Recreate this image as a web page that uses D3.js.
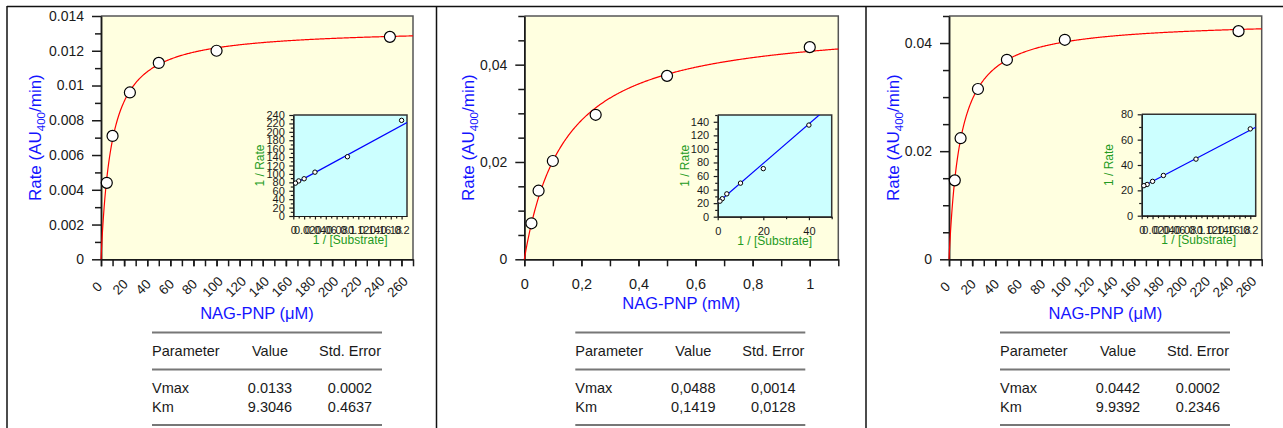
<!DOCTYPE html>
<html>
<head>
<meta charset="utf-8">
<script src="https://cdn.jsdelivr.net/npm/d3@7"></script>
<style>
  html, body { margin: 0; padding: 0; background: #ffffff; }
  svg { display: block; }
</style>
</head>
<body>
<svg id="chart" width="1283" height="428"></svg>
<script>
// ---- Data -------------------------------------------------------------
// Panel A: NAG-PNP in µM
const substrateA = [5, 10, 25, 50, 100, 250];
const rateA = [0.0044, 0.0071, 0.0096, 0.0113, 0.0120, 0.0128];
// Panel B: NAG-PNP in mM
const substrateB = [0.025, 0.05, 0.1, 0.25, 0.5, 1];
const rateB = [0.0074, 0.0141, 0.0202, 0.0297, 0.0377, 0.0436];
// Panel C: NAG-PNP in µM
const substrateC = [5, 10, 25, 50, 100, 250];
const rateC = [0.0146, 0.0224, 0.0315, 0.0369, 0.0406, 0.0422];

// Michaelis-Menten fit results: [Vmax, Km] and their standard errors
const paramNames = ["Vmax", "Km"];
const fitA = [0.0133, 9.3046];
const errA = [0.0002, 0.4637];
const fitB = [0.0488, 0.1419];
const errB = [0.0014, 0.0128];
const fitC = [0.0442, 9.9392];
const errC = [0.0002, 0.2346];

// Tick values
const xTicksMicro = [0, 20, 40, 60, 80, 100, 120, 140, 160, 180, 200, 220, 240, 260];
const xMinorMicro = [0, 10, 20, 30, 40, 50, 60, 70, 80, 90, 100, 110, 120, 130, 140, 150, 160, 170, 180, 190, 200, 210, 220, 230, 240, 250, 260, 270];
const xTicksMilli = [0, 0.2, 0.4, 0.6, 0.8, 1];
const xMinorMilli = [0, 0.1, 0.2, 0.3, 0.4, 0.5, 0.6, 0.7, 0.8, 0.9, 1, 1.1];
const yTicksA = [0, 0.002, 0.004, 0.006, 0.008, 0.01, 0.012, 0.014];
const yMinorA = [0.001, 0.003, 0.005, 0.007, 0.009, 0.011, 0.013];
const yTicksB = [0, 0.02, 0.04];
const yMinorB = [0.005, 0.01, 0.015, 0.025, 0.03, 0.035, 0.045, 0.05];
const yTicksC = [0, 0.02, 0.04];
const yMinorC = [0.005, 0.01, 0.015, 0.025, 0.03, 0.035, 0.045];

// Double-reciprocal inset ticks
const invSTicksMicro = [0, 0.02, 0.04, 0.06, 0.08, 0.1, 0.12, 0.14, 0.16, 0.18, 0.2];
const invSMinorMicro = [0.01, 0.03, 0.05, 0.07, 0.09, 0.11, 0.13, 0.15, 0.17, 0.19];
const invSTicksMilli = [0, 20, 40];
const invSMinorMilli = [10, 30, 50];
const invVTicksA = [0, 20, 40, 60, 80, 100, 120, 140, 160, 180, 200, 220, 240];
const invVMinorA = [10, 30, 50, 70, 90, 110, 130, 150, 170, 190, 210, 230];
const invVTicksB = [0, 20, 40, 60, 80, 100, 120, 140];
const invVMinorB = [10, 30, 50, 70, 90, 110, 130, 150];
const invVTicksC = [0, 20, 40, 60, 80];
const invVMinorC = [10, 30, 50, 70];

// ---- Styling ----------------------------------------------------------
const FONT = "'Liberation Sans', Arial, Helvetica, sans-serif";
const INK = "#1a1a1a";
const TITLE_BLUE = "#1414ff";
const INSET_GREEN = "#229a22";
const PLOT_BG = "#ffffe0";
const INSET_BG = "#ccffff";

const fmtDot = d3.format("~g");
const commaLocale = d3.formatLocale({ decimal: ",", thousands: ".", grouping: [3], currency: ["", ""] });
const fmtComma = commaLocale.format("~g");
const fmtDot4 = d3.format(".4f");
const fmtComma4 = commaLocale.format(".4f");

const svg = d3.select("#chart");

// Page frame: top rule and panel separators
const frame = svg.append("g").attr("stroke", "#111").attr("stroke-width", 1.5).attr("fill", "none");
frame.append("line").attr("x1", 7).attr("x2", 1283).attr("y1", 6.5).attr("y2", 6.5);
[7, 436.5, 866].forEach(xv => {
  frame.append("line").attr("x1", xv).attr("x2", xv).attr("y1", 6).attr("y2", 428);
});

function styleAxis(sel, width) {
  sel.selectAll("path.domain").attr("stroke", INK).attr("stroke-width", width);
  sel.selectAll(".tick line").attr("stroke", INK).attr("stroke-width", width);
  sel.attr("font-family", FONT);
}

function drawPanel(cfg) {
  const g = svg.append("g");
  const L = cfg.box[0], R = cfg.box[1], T = cfg.box[2], B = cfg.box[3];
  const x = d3.scaleLinear().domain(cfg.xDomain).range([L, R]);
  const y = d3.scaleLinear().domain(cfg.yDomain).range([B, T]);

  g.append("rect").attr("x", L).attr("y", T).attr("width", R - L).attr("height", B - T).attr("fill", PLOT_BG);
  g.append("path").attr("d", `M${L},${T}H${R}V${B}`).attr("fill", "none").attr("stroke", "#555").attr("stroke-width", 1.5);

  // y axis: minor then labelled ticks
  g.append("g").attr("transform", `translate(${L},0)`)
    .call(d3.axisLeft(y).tickValues(cfg.yMinor).tickSize(6).tickSizeOuter(0).tickFormat(""))
    .call(s => styleAxis(s, 1.5));
  g.append("g").attr("transform", `translate(${L},0)`)
    .call(d3.axisLeft(y).tickValues(cfg.yTicks).tickSize(9).tickSizeOuter(0).tickPadding(8).tickFormat(cfg.fmt))
    .call(s => styleAxis(s, 1.5))
    .call(s => s.selectAll("text").attr("font-size", 14).attr("fill", INK));

  // x axis: minor then labelled ticks
  g.append("g").attr("transform", `translate(0,${B})`)
    .call(d3.axisBottom(x).tickValues(cfg.xMinor).tickSize(7).tickSizeOuter(0).tickFormat(""))
    .call(s => styleAxis(s, 1.5));
  const xa = g.append("g").attr("transform", `translate(0,${B})`)
    .call(d3.axisBottom(x).tickValues(cfg.xTicks).tickSize(7).tickSizeOuter(0).tickPadding(12).tickFormat(cfg.fmt))
    .call(s => styleAxis(s, 1.5));
  if (cfg.rotateX) {
    xa.selectAll("text")
      .attr("font-size", 13.5).attr("fill", INK)
      .attr("x", 0).attr("y", 0).attr("dy", "0.35em")
      .attr("text-anchor", "middle")
      .attr("transform", "translate(-4.5,27.5) rotate(-45)");
  } else {
    xa.selectAll("text").attr("font-size", 14.5).attr("fill", INK);
  }

  // Michaelis-Menten curve from the fitted parameters
  const vmax = cfg.fit[0], km = cfg.fit[1];
  const xs = d3.range(0, 401).map(i => cfg.xDomain[1] * i / 400);
  const line = d3.line().x(s => x(s)).y(s => y(vmax * s / (km + s)));
  g.append("path").datum(xs).attr("d", line)
    .attr("fill", "none").attr("stroke", "#ff0000").attr("stroke-width", 1.2);

  // measured rates
  g.append("g").selectAll("circle")
    .data(cfg.conc.map((c, i) => [c, cfg.rate[i]]))
    .join("circle")
    .attr("cx", d => x(d[0])).attr("cy", d => y(d[1])).attr("r", 5.5)
    .attr("fill", "#ffffff").attr("stroke", "#000").attr("stroke-width", 1.2);

  // axis titles
  const yt = g.append("text")
    .attr("transform", `translate(${L + cfg.yTitleOffset},${(T + B) / 2}) rotate(-90)`)
    .attr("text-anchor", "middle").attr("font-family", FONT).attr("font-size", 17).attr("fill", TITLE_BLUE);
  yt.append("tspan").text("Rate (AU");
  yt.append("tspan").attr("font-size", 11.5).attr("dy", 4).text("400");
  yt.append("tspan").attr("dy", -4).text("/min)");

  g.append("text")
    .attr("x", (L + R) / 2).attr("y", cfg.xTitleY)
    .attr("text-anchor", "middle").attr("font-family", FONT).attr("font-size", 16.5).attr("fill", TITLE_BLUE)
    .text(cfg.xTitle);

  drawInset(g, cfg);
  drawTable(g, cfg);
}

function drawInset(g, cfg) {
  const ins = cfg.inset;
  const L = ins.box[0], R = ins.box[1], T = ins.box[2], B = ins.box[3];
  const x = d3.scaleLinear().domain(ins.xDomain).range([L, R]);
  const y = d3.scaleLinear().domain(ins.yDomain).range([B, T]);
  const clipId = "clip-" + cfg.id;

  g.append("clipPath").attr("id", clipId)
    .append("rect").attr("x", L).attr("y", T).attr("width", R - L).attr("height", B - T);
  g.append("rect").attr("x", L).attr("y", T).attr("width", R - L).attr("height", B - T).attr("fill", INSET_BG);
  g.append("path").attr("d", `M${L},${T}H${R}V${B}`).attr("fill", "none").attr("stroke", "#333").attr("stroke-width", 1.5);

  g.append("g").attr("transform", `translate(${L},0)`)
    .call(d3.axisLeft(y).tickValues(ins.yMinor).tickSize(2.5).tickSizeOuter(0).tickFormat(""))
    .call(s => styleAxis(s, 1.2));
  g.append("g").attr("transform", `translate(${L},0)`)
    .call(d3.axisLeft(y).tickValues(ins.yTicks).tickSize(4).tickSizeOuter(0).tickPadding(4.5).tickFormat(fmtDot))
    .call(s => styleAxis(s, 1.2))
    .call(s => s.selectAll("text").attr("font-size", 11).attr("fill", INK));

  g.append("g").attr("transform", `translate(0,${B})`)
    .call(d3.axisBottom(x).tickValues(ins.xMinor).tickSize(2.5).tickSizeOuter(0).tickFormat(""))
    .call(s => styleAxis(s, 1.2));
  g.append("g").attr("transform", `translate(0,${B})`)
    .call(d3.axisBottom(x).tickValues(ins.xTicks).tickSize(3.5).tickSizeOuter(0).tickPadding(7).tickFormat(fmtDot))
    .call(s => styleAxis(s, 1.2))
    .call(s => s.selectAll("text").attr("font-size", 11).attr("fill", INK));

  // Lineweaver-Burk line: 1/v = 1/Vmax + (Km/Vmax)(1/S)
  const vmax = cfg.fit[0], km = cfg.fit[1];
  const lb = s => 1 / vmax + (km / vmax) * s;
  g.append("line")
    .attr("clip-path", `url(#${clipId})`)
    .attr("x1", x(ins.xDomain[0])).attr("y1", y(lb(ins.xDomain[0])))
    .attr("x2", x(ins.xDomain[1])).attr("y2", y(lb(ins.xDomain[1])))
    .attr("stroke", "#0000ff").attr("stroke-width", 1.2);

  g.append("g").selectAll("circle")
    .data(cfg.conc.map((c, i) => [1 / c, 1 / cfg.rate[i]]))
    .join("circle")
    .attr("cx", d => x(d[0])).attr("cy", d => y(d[1])).attr("r", 2.2)
    .attr("fill", "#ffffff").attr("stroke", "#000").attr("stroke-width", 1);

  g.append("text")
    .attr("transform", `translate(${L - 29},${(T + B) / 2}) rotate(-90)`)
    .attr("text-anchor", "middle").attr("font-family", FONT).attr("font-size", 12).attr("fill", INSET_GREEN)
    .text("1 / Rate");
  g.append("text")
    .attr("x", (L + R) / 2).attr("y", B + 28)
    .attr("text-anchor", "middle").attr("font-family", FONT).attr("font-size", 12).attr("fill", INSET_GREEN)
    .text("1 / [Substrate]");
}

function drawTable(g, cfg) {
  const left = cfg.box[0] + 51;
  const width = 230;
  const colValue = left + 118;
  const colErr = left + 198;
  const rules = [332.5, 369.5, 425];
  const t = g.append("g").attr("font-family", FONT).attr("font-size", 14.5).attr("fill", INK);
  rules.forEach(ry => {
    g.append("line").attr("x1", left).attr("x2", left + width).attr("y1", ry).attr("y2", ry)
      .attr("stroke", "#777").attr("stroke-width", 2);
  });
  t.append("text").attr("x", left).attr("y", 355.5).text("Parameter");
  t.append("text").attr("x", colValue).attr("y", 355.5).attr("text-anchor", "middle").text("Value");
  t.append("text").attr("x", colErr).attr("y", 355.5).attr("text-anchor", "middle").text("Std. Error");
  const rowsY = [393, 411.5];
  paramNames.forEach((name, i) => {
    t.append("text").attr("x", left).attr("y", rowsY[i]).text(name);
    t.append("text").attr("x", colValue).attr("y", rowsY[i]).attr("text-anchor", "middle").text(cfg.fmt4(cfg.fit[i]));
    t.append("text").attr("x", colErr).attr("y", rowsY[i]).attr("text-anchor", "middle").text(cfg.fmt4(cfg.err[i]));
  });
}

// ---- Panels -----------------------------------------------------------
drawPanel({
  id: "a", conc: substrateA, rate: rateA, fit: fitA, err: errA,
  box: [101, 413, 16, 259.3],
  xDomain: [0, 270], yDomain: [0, 0.014],
  xTicks: xTicksMicro, xMinor: xMinorMicro, yTicks: yTicksA, yMinor: yMinorA,
  fmt: fmtDot, fmt4: fmtDot4, rotateX: true,
  xTitle: "NAG-PNP (\u03bcM)", xTitleY: 319, yTitleOffset: -60,
  inset: {
    box: [293.3, 407, 115, 216],
    xDomain: [0, 0.21], yDomain: [0, 240],
    xTicks: invSTicksMicro, xMinor: invSMinorMicro, yTicks: invVTicksA, yMinor: invVMinorA
  }
});

drawPanel({
  id: "b", conc: substrateB, rate: rateB, fit: fitB, err: errB,
  box: [524.3, 838.3, 16, 259.3],
  xDomain: [0, 1.1], yDomain: [0, 0.05],
  xTicks: xTicksMilli, xMinor: xMinorMilli, yTicks: yTicksB, yMinor: yMinorB,
  fmt: fmtComma, fmt4: fmtComma4, rotateX: false,
  xTitle: "NAG-PNP (mM)", xTitleY: 309, yTitleOffset: -50,
  inset: {
    box: [717.7, 831.7, 115, 216.7],
    xDomain: [0, 50], yDomain: [0, 150],
    xTicks: invSTicksMilli, xMinor: invSMinorMilli, yTicks: invVTicksB, yMinor: invVMinorB
  }
});

drawPanel({
  id: "c", conc: substrateC, rate: rateC, fit: fitC, err: errC,
  box: [949, 1261.7, 16, 259.3],
  xDomain: [0, 270], yDomain: [0, 0.045],
  xTicks: xTicksMicro, xMinor: xMinorMicro, yTicks: yTicksC, yMinor: yMinorC,
  fmt: fmtDot, fmt4: fmtDot4, rotateX: true,
  xTitle: "NAG-PNP (\u03bcM)", xTitleY: 319, yTitleOffset: -50,
  inset: {
    box: [1141.7, 1255.7, 114.3, 215.7],
    xDomain: [0, 0.21], yDomain: [0, 80],
    xTicks: invSTicksMicro, xMinor: invSMinorMicro, yTicks: invVTicksC, yMinor: invVMinorC
  }
});
</script>
</body>
</html>
